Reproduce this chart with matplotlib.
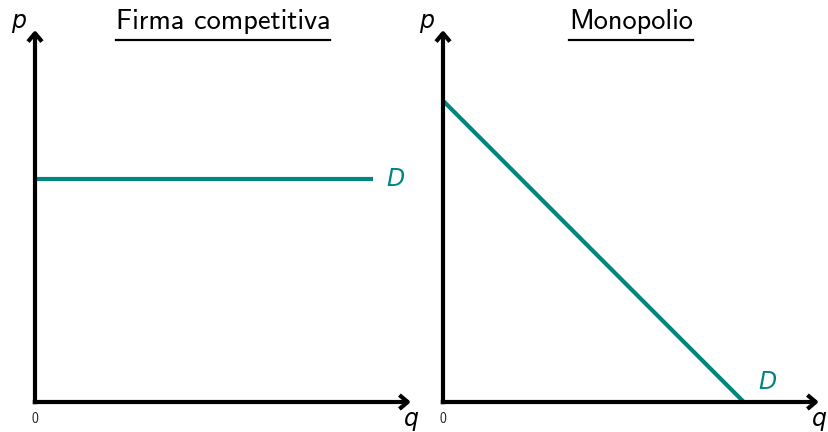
import matplotlib
matplotlib.use("Agg")
import matplotlib.pyplot as plt
from matplotlib.lines import Line2D

# Data
titles = ["Firma competitiva", "Monopolio"]
# Left: perfectly elastic demand (constant price)
comp_q = [0, 9]
comp_p = [6, 6]
# Right: downward sloping demand
mono_q = [0, 8]
mono_p = [8.1, 0]
x_label = "q"
y_label = "p"
curve_label = "D"
origin_label = "0"

TEAL = "#008580"
W, H = 829, 432
fig = plt.figure(figsize=(W / 100, H / 100), dpi=100)

def make_ax(x0px):
    ax = fig.add_axes([x0px / W, 30 / H, 376 / W, 372 / H])
    ax.set_xlim(0, 10)
    ax.set_ylim(0, 10)
    ax.axis("off")
    arrow = dict(arrowstyle="->,head_length=0.6,head_width=0.5", lw=3, color="black",
                 shrinkA=0, shrinkB=0, mutation_scale=10, capstyle="butt")
    ax.annotate("", xy=(10, 0), xytext=(-0.06, 0), arrowprops=arrow, annotation_clip=False)
    ax.annotate("", xy=(0, 10), xytext=(0, -0.06), arrowprops=arrow, annotation_clip=False)
    ax.text(-0.45, 10.05, y_label, fontsize=17, style="italic", family="DejaVu Sans",
            ha="center", va="baseline")
    ax.text(10.0, -0.65, x_label, fontsize=17, style="italic", family="DejaVu Sans",
            ha="center", va="baseline")
    ax.text(0.0, -0.45, origin_label, fontsize=10, family="cmss10", color="#222222",
            ha="center", va="center")
    return ax

ax1 = make_ax(35)
ax2 = make_ax(443)

ax1.plot(comp_q, comp_p, color=TEAL, lw=3, solid_capstyle="butt", clip_on=False)
ax1.text(9.6, comp_p[0], curve_label, color=TEAL, fontsize=17, style="italic",
         family="DejaVu Sans", ha="center", va="center")

ax2.plot(mono_q, mono_p, color=TEAL, lw=3, solid_capstyle="butt", clip_on=False)
ax2.text(8.62, 0.55, curve_label, color=TEAL, fontsize=17, style="italic",
         family="DejaVu Sans", ha="center", va="center")

tts = []
for ax, t in zip([ax1, ax2], titles):
    tt = ax.text(5.0, 10.03, t, fontsize=20.4, family="cmss10", ha="center", va="baseline")
    tts.append(tt)

fig.canvas.draw()
r = fig.canvas.get_renderer()
for tt in tts:
    bb = tt.get_window_extent(r)
    fig.add_artist(Line2D([bb.x0 / W, bb.x1 / W], [(H - 40) / H] * 2,
                          transform=fig.transFigure, color="black", lw=1.6))

fig.savefig("out.png", dpi=100)
